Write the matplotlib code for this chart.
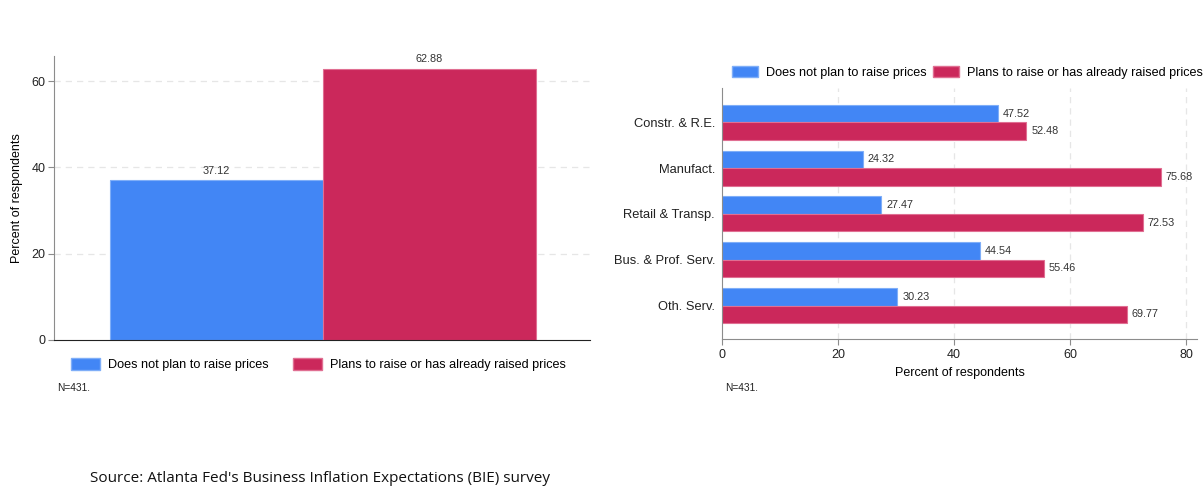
import matplotlib
matplotlib.use("Agg")
import matplotlib.pyplot as plt
from matplotlib.patches import Patch
import numpy as np

plt.rcParams['font.family'] = ['Liberation Sans', 'DejaVu Sans']

series = ["Does not plan to raise prices", "Plans to raise or has already raised prices"]
overall = [37.12, 62.88]

sectors = ["Constr. & R.E.", "Manufact.", "Retail & Transp.", "Bus. & Prof. Serv.", "Oth. Serv."]
no_raise = [47.52, 24.32, 27.47, 44.54, 30.23]
raise_ = [52.48, 75.68, 72.53, 55.46, 69.77]

blue = '#4286F5'
red = '#CB285B'
blue_edge = '#7FAEF8'
red_edge = '#E06F92'
spine_grey = '#8C8C8C'
grid_col = '#E6E6E6'

W, H = 1204, 495
fig = plt.figure(figsize=(W / 100, H / 100), dpi=100)

def frac(x0, y_top, x1, y_bot):
    return [x0 / W, 1 - y_bot / H, (x1 - x0) / W, (y_bot - y_top) / H]

# ---- left: overall
ax1 = fig.add_axes(frac(54, 56, 590, 340))
xs = np.arange(len(overall))
cols = [blue, red]
edges = [blue_edge, red_edge]
for i, v in enumerate(overall):
    ax1.bar(xs[i], v, width=1.0, color=cols[i], edgecolor=edges[i], linewidth=0.8)
    ax1.annotate(f"{v:.2f}", (xs[i], v), xytext=(0, 3), textcoords='offset points',
                 ha='center', va='bottom', fontsize=7.8, color='#333333')
ax1.set_xlim(-0.763, 1.754)
ax1.set_ylim(0, 65.8)
ax1.set_yticks([0, 20, 40, 60])
ax1.set_xticks([])
ax1.yaxis.grid(True, linestyle=(0, (5, 4)), color=grid_col, linewidth=0.9)
ax1.set_axisbelow(True)
for s in ['top', 'right']:
    ax1.spines[s].set_visible(False)
ax1.spines['left'].set_color(spine_grey)
ax1.spines['bottom'].set_color('#222222')
ax1.tick_params(axis='y', colors=spine_grey, labelcolor='#222222', labelsize=9, length=4, width=0.8, pad=2)
ax1.set_ylabel("Percent of respondents", fontsize=9)
ax1.yaxis.set_label_coords(-0.058, 0.5)
# no gridline at 0
ax1.get_ygridlines()[0].set_visible(False)

h1 = [Patch(facecolor=blue, edgecolor=blue_edge), Patch(facecolor=red, edgecolor=red_edge)]
fig.legend(h1, series, loc='center left', bbox_to_anchor=(71 / W, 1 - 364.5 / H), ncol=2,
           frameon=False, fontsize=9.1, handlelength=2.3, handleheight=1.05, handletextpad=0.6,
           columnspacing=1.95, borderpad=0, borderaxespad=0)
fig.text(57 / W, 1 - 388 / H, "N=431.", fontsize=7.3, va='center', ha='left', color='#222222')

# ---- right: by sector
ax2 = fig.add_axes(frac(722, 88, 1197, 339.3))
ys = np.arange(len(sectors))
h = 0.38
ax2.barh(ys - h / 2, no_raise, height=h, color=blue, edgecolor=blue_edge, linewidth=0.8)
ax2.barh(ys + h / 2, raise_, height=h, color=red, edgecolor=red_edge, linewidth=0.8)
for y, v in zip(ys, no_raise):
    ax2.annotate(f"{v:.2f}", (v, y - h / 2), xytext=(3.5, 0), textcoords='offset points',
                 ha='left', va='center', fontsize=7.8, color='#333333')
for y, v in zip(ys, raise_):
    ax2.annotate(f"{v:.2f}", (v, y + h / 2), xytext=(3.5, 0), textcoords='offset points',
                 ha='left', va='center', fontsize=7.8, color='#333333')
ax2.set_ylim(4.738, -0.749)
ax2.set_xlim(0, 81.9)
ax2.set_yticks(ys)
ax2.set_yticklabels(sectors)
ax2.set_xticks([0, 20, 40, 60, 80])
ax2.xaxis.grid(True, linestyle=(0, (5, 4)), color=grid_col, linewidth=0.9)
ax2.set_axisbelow(True)
ax2.get_xgridlines()[0].set_visible(False)
for s in ['top', 'right']:
    ax2.spines[s].set_visible(False)
ax2.spines['left'].set_color(spine_grey)
ax2.spines['bottom'].set_color(spine_grey)
ax2.tick_params(axis='x', colors=spine_grey, labelcolor='#222222', labelsize=9, length=4, width=0.8, pad=3)
ax2.tick_params(axis='y', length=0, labelsize=9.3, labelcolor='#222222', pad=5)
ax2.set_xlabel("Percent of respondents", fontsize=9, labelpad=4)

h2 = [Patch(facecolor=blue, edgecolor=blue_edge), Patch(facecolor=red, edgecolor=red_edge)]
fig.legend(h2, series, loc='center left', bbox_to_anchor=(731.5 / W, 1 - 72.5 / H), ncol=2,
           frameon=False, fontsize=9.1, handlelength=2.1, handleheight=0.9, handletextpad=0.6,
           columnspacing=0.5, borderpad=0, borderaxespad=0)
fig.text(725 / W, 1 - 388 / H, "N=431.", fontsize=7.3, va='center', ha='left', color='#222222')

fig.text(90 / W, 1 - 478 / H, "Source: Atlanta Fed's Business Inflation Expectations (BIE) survey",
         fontsize=11, family=['Open Sans', 'DejaVu Sans'], va='center', ha='left', color='#111111')

fig.savefig("out.png", dpi=100, facecolor='white')
